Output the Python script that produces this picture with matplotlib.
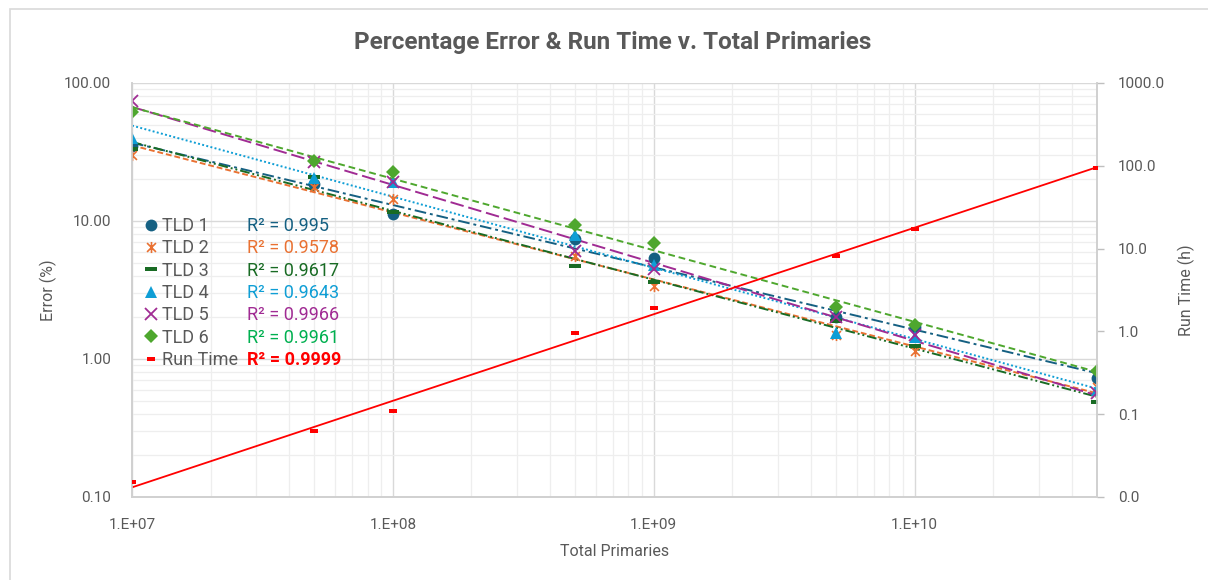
import numpy as np
import matplotlib.pyplot as plt
from matplotlib.lines import Line2D
from matplotlib.patches import Rectangle
from matplotlib.path import Path
from matplotlib.ticker import FixedLocator, FuncFormatter, NullFormatter, LogLocator, NullLocator

plt.rcParams['font.family'] = ['Roboto', 'DejaVu Sans']

# data
primaries = [1e7, 5e7, 1e8, 5e8, 1e9, 5e9, 1e10, 5e10]
tld1 = [35.0, 18.5, 11.2, 7.4, 5.4, 2.0, 1.7, 0.73]
tld2 = [30.0, 17.6, 14.4, 5.6, 3.4, 1.5, 1.15, 0.63]
tld3 = [33.0, 21.0, 11.6, 4.7, 3.6, 1.9, 1.24, 0.49]
tld4 = [40.0, 20.5, 19.2, 7.9, 4.8, 1.55, 1.45, 0.60]
tld5 = [74.0, 26.8, 19.2, 6.1, 4.5, 2.0, 1.5, 0.57]
tld6 = [62.0, 27.2, 22.6, 9.3, 6.9, 2.4, 1.75, 0.82]
run_time = [0.0152, 0.062, 0.109, 0.95, 1.9, 8.2, 17.4, 95.0]

names = ["TLD 1", "TLD 2", "TLD 3", "TLD 4", "TLD 5", "TLD 6"]
r2_labels = ["0.995", "0.9578", "0.9617", "0.9643", "0.9966", "0.9961"]
run_r2 = "0.9999"

left_ticks = [0.1, 1, 10, 100]
right_ticks = [0.01, 0.1, 1, 10, 100, 1000]
x_ticks = [1e7, 1e8, 1e9, 1e10]

# marker shapes
star = Path([(-1, -1), (1, 1), (-1, 1), (1, -1), (0, -1.25), (0, 1.25)],
            [Path.MOVETO, Path.LINETO] * 3)
dash = Path([(-1, -0.38), (1, -0.38), (1, 0.38), (-1, 0.38), (-1, -0.38)],
            [Path.MOVETO, Path.LINETO, Path.LINETO, Path.LINETO, Path.CLOSEPOLY])
run_dash = Path([(-1, -0.45), (1, -0.45), (1, 0.45), (-1, 0.45), (-1, -0.45)],
                [Path.MOVETO, Path.LINETO, Path.LINETO, Path.LINETO, Path.CLOSEPOLY])

styles = [
    dict(color="#156082", marker="o", ms=8.5, mew=0, ls=(0, (6, 2, 1.5, 2)), r2c="#156082"),
    dict(color="#E97132", marker=star, ms=8, mew=1.2, ls=(0, (3, 1.5)), r2c="#E97132"),
    dict(color="#196B24", marker=dash, ms=8.5, mew=0, ls=(0, (5, 1.5, 1, 1.5, 1, 1.5)), r2c="#196B24"),
    dict(color="#0F9ED5", marker="^", ms=9, mew=0, ls=(0, (1, 1.2)), r2c="#0F9ED5"),
    dict(color="#A02B93", marker="x", ms=8, mew=1.3, ls=(0, (7, 2.5)), r2c="#A02B93"),
    dict(color="#4EA72E", marker="D", ms=7, mew=0, ls=(0, (3.5, 2)), r2c="#00B050"),
]

GRAY = "#595959"

fig = plt.figure(figsize=(12.08, 5.80), dpi=100)
ax = fig.add_axes([132 / 1208, 1 - 497 / 580, (1097 - 132) / 1208, (497 - 83) / 580])
ax2 = ax.twinx()

x = np.array(primaries)
xfit = np.logspace(7, np.log10(5e10), 200)


def power_fit(xs, ys):
    coef = np.polyfit(np.log10(xs), np.log10(ys), 1)
    return 10 ** np.polyval(coef, np.log10(xfit))


handles = []
for name, ys, st in zip(names, [tld1, tld2, tld3, tld4, tld5, tld6], styles):
    ax.plot(xfit, power_fit(x, ys), color=st["color"], lw=1.4, ls=st["ls"], zorder=2)
    mk = dict(marker=st["marker"], ms=st["ms"], mew=st["mew"], color=st["color"],
              mfc=st["color"], mec=st["color"], ls="none")
    ax.plot(x, ys, zorder=3, **mk)
    handles.append(Line2D([], [], **mk))

ax2.plot(xfit, power_fit(x, run_time), color="#FF0000", lw=1.3, zorder=2)
rk = dict(marker=run_dash, ms=6, mew=0, color="#FF0000", ls="none")
ax2.plot(x, run_time, zorder=3, **rk)
handles.append(Line2D([], [], **rk))

# axes
ax.set_xscale("log")
ax.set_yscale("log")
ax.set_xlim(1e7, 5e10)
ax.set_ylim(0.1, 100)
ax2.set_yscale("log")
ax2.set_ylim(0.01, 1000)

ax.xaxis.set_major_locator(FixedLocator(x_ticks))
ax.xaxis.set_major_formatter(FuncFormatter(lambda v, p: "1.E+%02d" % round(np.log10(v))))
ax.xaxis.set_minor_locator(LogLocator(base=10, subs=np.arange(2, 10)))
ax.xaxis.set_minor_formatter(NullFormatter())
ax.yaxis.set_major_locator(FixedLocator(left_ticks))
ax.yaxis.set_major_formatter(FuncFormatter(lambda v, p: "%.2f" % v))
ax.yaxis.set_minor_locator(LogLocator(base=10, subs=np.arange(2, 10)))
ax.yaxis.set_minor_formatter(NullFormatter())
ax2.yaxis.set_major_locator(FixedLocator(right_ticks))
ax2.yaxis.set_major_formatter(FuncFormatter(lambda v, p: "%.1f" % v))
ax2.yaxis.set_minor_locator(NullLocator())

ax.grid(True, which="major", color="#D9D9D9", lw=1.0)
ax.grid(True, which="minor", color="#EEEEEE", lw=0.9)
ax.set_axisbelow(True)

ax.tick_params(axis="both", which="both", length=0, labelsize=11, labelcolor=GRAY)
ax.tick_params(axis="x", pad=15)
ax.tick_params(axis="y", pad=15)
ax2.tick_params(axis="y", which="major", length=5, width=1, color="#BFBFBF",
                labelsize=11, labelcolor=GRAY, pad=10)

for a in (ax, ax2):
    a.spines["top"].set_visible(False)
    for s in ("left", "right", "bottom"):
        a.spines[s].set_color("#D0D0D0")
        a.spines[s].set_linewidth(1.2)

ax.set_xlabel("Total Primaries", fontsize=11.5, color=GRAY, labelpad=9)
ax.set_ylabel("Error (%)", fontsize=11.5, color=GRAY, labelpad=5)
ax2.set_ylabel("Run Time (h)", fontsize=11.5, color=GRAY, labelpad=9)

fig.text(0.507, 1 - 42 / 580, "Percentage Error & Run Time v. Total Primaries",
         ha="center", va="center", fontsize=17.5, fontweight="bold", color=GRAY)

# legend: markers + names, then R² values in series colours
leg_kw = dict(loc="upper left", bbox_transform=fig.transFigure, frameon=False,
              fontsize=13, labelspacing=0.24, borderpad=0, borderaxespad=0)
leg1 = ax2.legend(handles, names + ["Run Time"], bbox_to_anchor=(144 / 1208, 1 - 217 / 580),
                  handlelength=0.8, handletextpad=0.2, **leg_kw)
for t in leg1.get_texts():
    t.set_color(GRAY)
ax2.add_artist(leg1)

blank = [Line2D([], [], ls="none") for _ in range(7)]
leg2 = ax2.legend(blank, ["R² = " + r for r in r2_labels] + ["R² = " + run_r2],
                  bbox_to_anchor=(247 / 1208, 1 - 217 / 580),
                  handlelength=0, handletextpad=0, **leg_kw)
for t, st in zip(leg2.get_texts(), styles):
    t.set_color(st["r2c"])
leg2.get_texts()[-1].set_color("#FF0000")
leg2.get_texts()[-1].set_fontweight("bold")

fig.patches.append(Rectangle((10 / 1208, -0.1), 1.2, 1 - 9 / 580 + 0.1,
                             transform=fig.transFigure, fill=False, ec="#D9D9D9", lw=1.2))

fig.savefig("out.png", dpi=100)
